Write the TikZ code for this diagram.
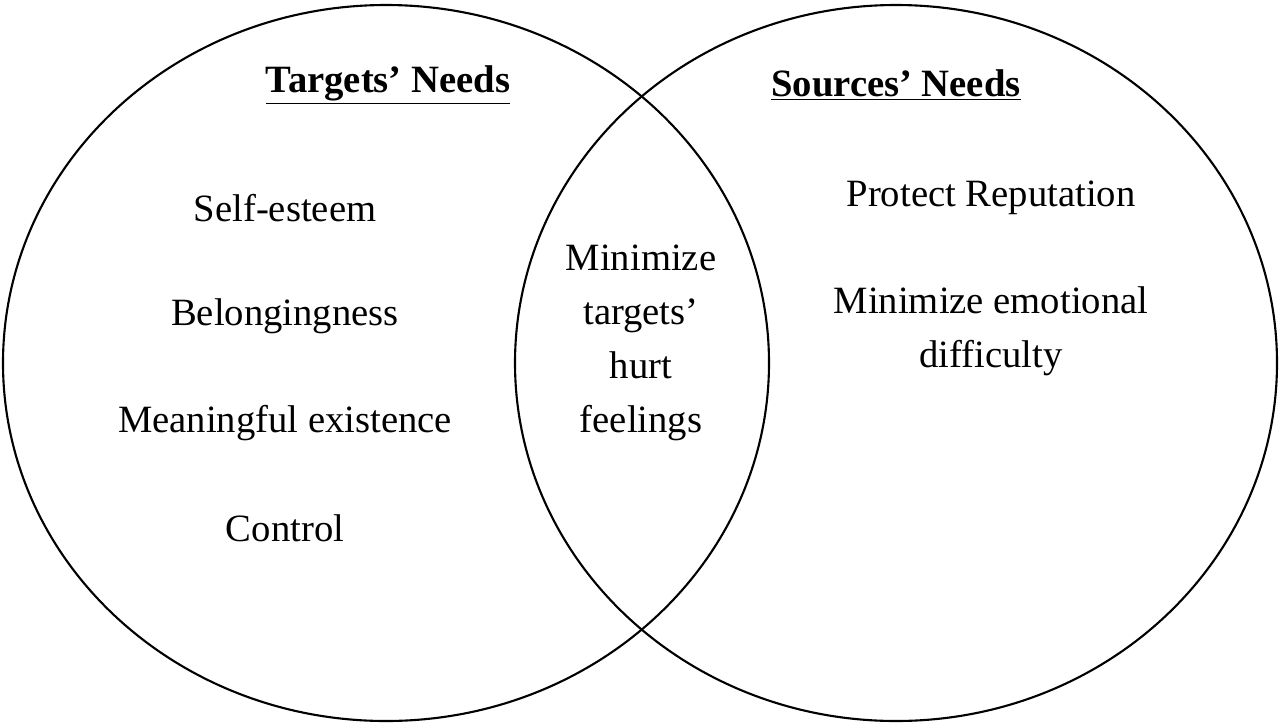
\documentclass[tikz,border=0pt]{standalone}
\usepackage{fontspec}
\setmainfont{Liberation Serif}
\begin{document}
\begin{tikzpicture}[x=0.02cm,y=-0.02cm,
  lbl/.style={font=\fontsize{22}{30.6}\selectfont,align=center,inner sep=0pt},
  ttl/.style={font=\fontsize{22}{30.6}\selectfont\bfseries,inner sep=0pt},
  circ/.style={draw,line width=1.2pt}]
\useasboundingbox (0,0) rectangle (1280,727);
\fill[white] (0,0) rectangle (1280,727);
\draw[circ] (386,363) ellipse [x radius=383, y radius=358];
\draw[circ] (896,363) ellipse [x radius=381, y radius=358];
\node[ttl] (t1) at (388,85) {\underline{Targets’ Needs}};
\node[ttl] (t2) at (896,85) {\underline{Sources’ Needs}};
\node[lbl] (a) at (285,208) {Self-esteem};
\node[lbl] (b) at (285,316) {Belongingness};
\node[lbl] (c) at (285,423) {Meaningful existence};
\node[lbl] (d) at (285,528) {Control};
\node[lbl] (m) at (641,343) {Minimize\\targets’\\hurt\\feelings};
\node[lbl] (p) at (991,198) {Protect Reputation};
\node[lbl] (q) at (991,331) {Minimize emotional\\difficulty};
\end{tikzpicture}
\end{document}
